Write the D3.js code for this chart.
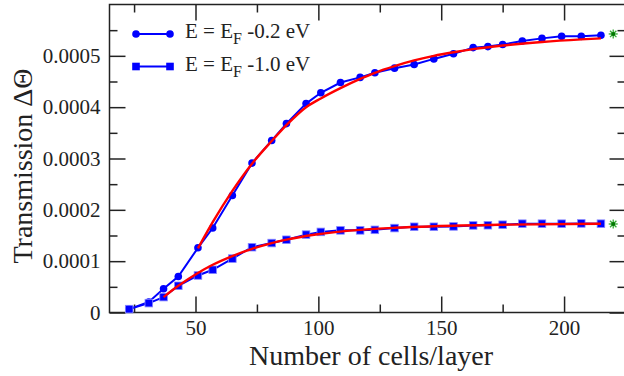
<!DOCTYPE html>
<html>
<head>
<meta charset="utf-8">
<script src="https://cdn.jsdelivr.net/npm/d3@7"></script>
<style>
  body { margin: 0; background: #fff; }
  svg text { font-family: "Liberation Serif", "Times New Roman", serif !important; fill: #222; }
</style>
</head>
<body>
<div id="chart"></div>
<script>
// cells per layer (same for both series)
var cells = [23, 31, 37, 43, 51, 57, 65, 73, 81, 87, 95, 101, 109, 117, 123, 131, 139, 147, 155, 163, 169, 175, 183, 191, 199, 207, 215];

// E = EF - 0.2 eV  (circles)
var trans02 = [0.0000066, 0.0000205, 0.0000462, 0.0000702, 0.000126, 0.0001645, 0.000228, 0.000291, 0.000335, 0.000368, 0.000407, 0.000428, 0.000448, 0.000458, 0.000467, 0.000476, 0.000483, 0.000494, 0.000504, 0.000516, 0.000518, 0.000522, 0.000529, 0.000534, 0.000538, 0.000538, 0.00054];

// E = EF - 1.0 eV  (squares)
var trans10 = [0.0000066, 0.0000183, 0.00003, 0.000052, 0.0000721, 0.0000832, 0.000105, 0.0001272, 0.0001353, 0.0001417, 0.0001517, 0.000157, 0.00016, 0.00016, 0.000161, 0.0001645, 0.000167, 0.000167, 0.0001677, 0.0001696, 0.00017, 0.000171, 0.000173, 0.000173, 0.000173, 0.0001735, 0.000173];

// red fit curves
var fit02x = [51, 57, 65, 73, 81, 87, 95, 101, 109, 117, 123, 131, 139, 147, 155, 163, 175, 191, 207, 215];
var fit02y = [0.000125, 0.000176, 0.000237, 0.00029, 0.000334, 0.000365, 0.0004, 0.000417, 0.000437, 0.000455, 0.000467, 0.00048, 0.000491, 0.0005, 0.000507, 0.000513, 0.00052, 0.000527, 0.000532, 0.000534];
var fit10x = [37, 43, 51, 57, 65, 73, 81, 87, 99, 117, 131, 147, 175, 215];
var fit10y = [0.00003, 0.000052, 0.000077, 0.000093, 0.00011, 0.000124, 0.000135, 0.000142, 0.000152, 0.000161, 0.000165, 0.000168, 0.000171, 0.000173];

// green asymptote stars
var starX = [220, 220];
var starY = [0.0005426, 0.0001724];

var legendLabels = [["E = E", "F", " -0.2 eV"], ["E = E", "F", " -1.0 eV"]];

var xMajor = [50, 100, 150, 200];
var xMinor = [25, 75, 125, 175];
var yMajor = [0, 0.0001, 0.0002, 0.0003, 0.0004, 0.0005];
var yMinor = [0.00005, 0.00015, 0.00025, 0.00035, 0.00045, 0.00055];

var width = 624, height = 376;
var pLeft = 109.5, pRight = 625.5, pTop = 4.5, pBottom = 312.5;

var x = d3.scaleLinear().domain([15, 225]).range([pLeft, pRight]);
var y = d3.scaleLinear().domain([0, 0.0006]).range([pBottom, pTop]);

var svg = d3.select("#chart").append("svg")
    .attr("width", width)
    .attr("height", height);

// axes with inward ticks
function styleAxis(g) {
    g.attr("font-family", null);
    g.select(".domain").remove();
    g.selectAll("line").attr("stroke", "#222").attr("stroke-width", 1.5);
    g.selectAll("text").style("font-family", "'Liberation Serif', serif").attr("fill", "#222");
}

svg.append("g").attr("transform", "translate(0," + pBottom + ")")
    .call(d3.axisBottom(x).tickValues(xMajor).tickSize(-16).tickPadding(8).tickFormat(d3.format("d")))
    .call(styleAxis)
    .selectAll("text").style("font-size", "21px");
svg.append("g").attr("transform", "translate(0," + pBottom + ")")
    .call(d3.axisBottom(x).tickValues(xMinor).tickSize(-8).tickFormat(""))
    .call(styleAxis);
svg.append("g").attr("transform", "translate(0," + pTop + ")")
    .call(d3.axisTop(x).tickValues(xMajor).tickSize(-16).tickFormat(""))
    .call(styleAxis);
svg.append("g").attr("transform", "translate(0," + pTop + ")")
    .call(d3.axisTop(x).tickValues(xMinor).tickSize(-8).tickFormat(""))
    .call(styleAxis);

svg.append("g").attr("transform", "translate(" + pLeft + ",0)")
    .call(d3.axisLeft(y).tickValues(yMajor).tickSize(-16).tickPadding(9)
        .tickFormat(function(d) { return d === 0 ? "0" : d3.format(".4f")(d); }))
    .call(styleAxis)
    .selectAll("text").style("font-size", "21px");
svg.append("g").attr("transform", "translate(" + pLeft + ",0)")
    .call(d3.axisLeft(y).tickValues(yMinor).tickSize(-8).tickFormat(""))
    .call(styleAxis);
svg.append("g").attr("transform", "translate(" + pRight + ",0)")
    .call(d3.axisRight(y).tickValues(yMajor).tickSize(-16).tickFormat(""))
    .call(styleAxis);
svg.append("g").attr("transform", "translate(" + pRight + ",0)")
    .call(d3.axisRight(y).tickValues(yMinor).tickSize(-8).tickFormat(""))
    .call(styleAxis);

// frame
svg.append("rect")
    .attr("x", pLeft).attr("y", pTop)
    .attr("width", pRight - pLeft).attr("height", pBottom - pTop)
    .attr("fill", "none").attr("stroke", "#222").attr("stroke-width", 1.5);

// axis titles
svg.append("text")
    .attr("x", 371).attr("y", 365)
    .attr("text-anchor", "middle")
    .style("font-size", "28px")
    .text("Number of cells/layer");

svg.append("text")
    .attr("transform", "translate(32,166) rotate(-90)")
    .attr("text-anchor", "middle")
    .style("font-size", "28px")
    .text("Transmission ΔΘ");

var line = d3.line()
    .x(function(d) { return x(d[0]); })
    .y(function(d) { return y(d[1]); });

var fitLine = d3.line()
    .x(function(d) { return x(d[0]); })
    .y(function(d) { return y(d[1]); })
    .curve(d3.curveMonotoneX);

var s02 = cells.map(function(c, i) { return [c, trans02[i]]; });
var s10 = cells.map(function(c, i) { return [c, trans10[i]]; });

svg.append("path").datum(s02).attr("d", line)
    .attr("fill", "none").attr("stroke", "#0000ff").attr("stroke-width", 2);
svg.append("path").datum(s10).attr("d", line)
    .attr("fill", "none").attr("stroke", "#0000ff").attr("stroke-width", 2);

svg.selectAll(".c02").data(s02).enter().append("circle")
    .attr("cx", function(d) { return x(d[0]); })
    .attr("cy", function(d) { return y(d[1]); })
    .attr("r", 3.8).attr("fill", "#0000ff");

svg.selectAll(".s10").data(s10).enter().append("rect")
    .attr("x", function(d) { return x(d[0]) - 3.8; })
    .attr("y", function(d) { return y(d[1]) - 3.8; })
    .attr("width", 7.6).attr("height", 7.6)
    .attr("fill", "#0000ff").attr("stroke", "#8888ff").attr("stroke-width", 0.8);

// fits
svg.append("path").datum(fit02x.map(function(v, i) { return [v, fit02y[i]]; }))
    .attr("d", fitLine).attr("fill", "none").attr("stroke", "#ff0000").attr("stroke-width", 2.4);
svg.append("path").datum(fit10x.map(function(v, i) { return [v, fit10y[i]]; }))
    .attr("d", fitLine).attr("fill", "none").attr("stroke", "#ff0000").attr("stroke-width", 2.4);

// stars
starX.forEach(function(sx, i) {
    var g = svg.append("g").attr("transform", "translate(" + x(sx) + "," + y(starY[i]) + ")");
    for (var k = 0; k < 4; k++) {
        var a = k * Math.PI / 4;
        g.append("line")
            .attr("x1", -4.5 * Math.cos(a)).attr("y1", -4.5 * Math.sin(a))
            .attr("x2", 4.5 * Math.cos(a)).attr("y2", 4.5 * Math.sin(a))
            .attr("stroke", "#33aa33").attr("stroke-width", 1.3);
    }
    g.append("circle").attr("r", 2).attr("fill", "#007700");
});

// legend
var legY = [34, 66.5];
legendLabels.forEach(function(lab, i) {
    var ly = legY[i];
    svg.append("line")
        .attr("x1", 136).attr("x2", 170).attr("y1", ly).attr("y2", ly)
        .attr("stroke", "#0000ff").attr("stroke-width", 2);
    [136, 170].forEach(function(mx) {
        if (i === 0) {
            svg.append("circle").attr("cx", mx).attr("cy", ly).attr("r", 3.8).attr("fill", "#0000ff");
        } else {
            svg.append("rect").attr("x", mx - 3.8).attr("y", ly - 3.8)
                .attr("width", 7.6).attr("height", 7.6).attr("fill", "#0000ff");
        }
    });
    var t = svg.append("text").attr("x", 185).attr("y", ly + 4).style("font-size", "21px");
    t.append("tspan").text(lab[0]);
    t.append("tspan").attr("dy", 6).style("font-size", "16px").text(lab[1]);
    t.append("tspan").attr("dy", -6).text(lab[2]);
});
</script>
</body>
</html>
